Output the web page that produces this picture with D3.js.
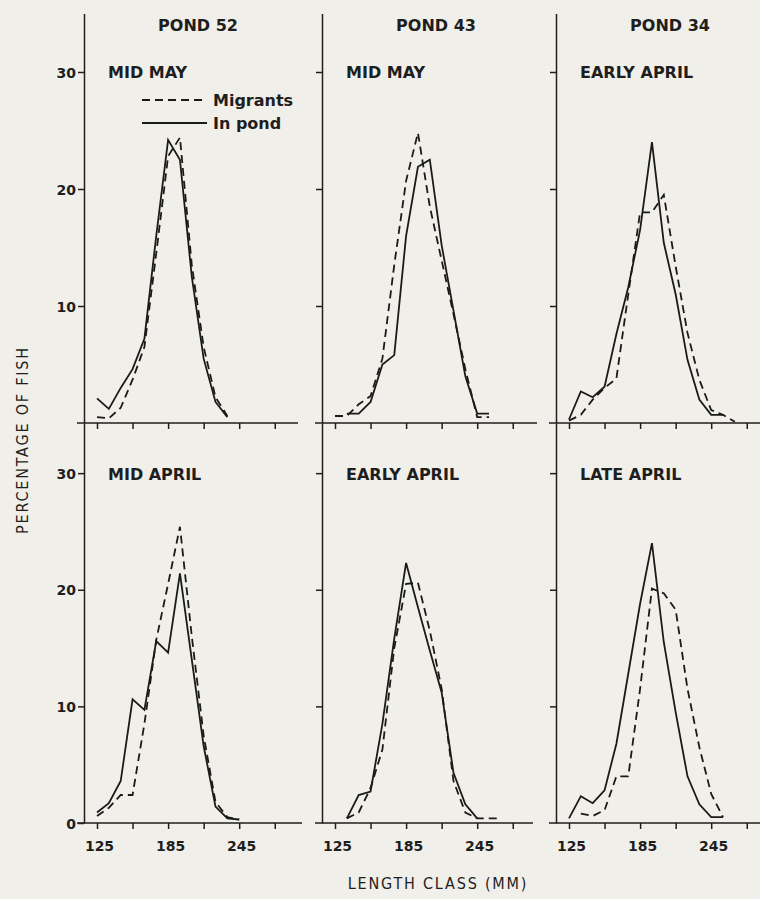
<!DOCTYPE html>
<html>
<head>
<meta charset="utf-8">
<script src="https://cdn.jsdelivr.net/npm/d3@7"></script>
<style>
  html, body { margin: 0; padding: 0; background: #f1efe9; }
  svg { display: block; }
  .axis path, .axis line { stroke: #1e1e1e; stroke-width: 1.5; }
  .axis text { font-family: "DejaVu Sans", sans-serif; font-weight: bold; font-size: 14px; fill: #1e1e1e; }
  .lbl { font-family: "DejaVu Sans", sans-serif; font-weight: bold; font-size: 16px; fill: #1e1e1e; }
  .title { font-family: "DejaVu Sans Condensed", "Liberation Sans Narrow", sans-serif; font-size: 16px; fill: #1e1e1e; letter-spacing: 1.8px; }
</style>
</head>
<body>
<div id="chart"></div>
<script>
// length classes (mm), one value per class below; null = no point
const lengthClasses = [125, 135, 145, 155, 165, 175, 185, 195, 205, 215, 225, 235, 245, 255, 265];
const xTicks = [125, 155, 185, 215, 245, 275];
const xTickLabels = [125, 185, 245];

const pondTitles = ["POND 52", "POND 43", "POND 34"];
const topPeriods = ["MID MAY", "MID MAY", "EARLY APRIL"];
const bottomPeriods = ["MID APRIL", "EARLY APRIL", "LATE APRIL"];

// top row
const pond52MayMigrants = [0.5, 0.4, 1.3, 3.7, 6.5, 14.5, 22.8, 24.4, 13.5, 6.5, 2.2, 0.6, null, null, null];
const pond52MayInPond   = [2.1, 1.2, 3.0, 4.6, 7.2, 16.0, 24.2, 22.5, 12.5, 5.5, 1.8, 0.5, null, null, null];
const pond43MayMigrants = [0.6, 0.6, 1.6, 2.3, 5.5, 13.5, 20.7, 24.8, 18.5, 13.9, 9.3, 4.6, 0.5, 0.5, null];
const pond43MayInPond   = [null, 0.8, 0.8, 1.8, 5.0, 5.8, 16.0, 21.9, 22.5, 15.2, 9.6, 4.0, 0.8, 0.8, null];
const pond34EarlyAprMigrants = [0.2, 0.7, 2.0, 3.0, 3.8, 11.0, 18.0, 18.0, 19.5, 13.4, 7.7, 3.7, 1.1, 0.7, 0.1];
const pond34EarlyAprInPond   = [0.3, 2.7, 2.2, 3.1, 7.6, 11.6, 16.5, 24.0, 15.4, 11.0, 5.4, 2.0, 0.7, 0.7, null];

// bottom row
const pond52MidAprMigrants = [0.6, 1.3, 2.4, 2.4, 8.5, 15.7, 20.5, 25.4, 16.0, 7.5, 1.8, 0.5, 0.3, null, null];
const pond52MidAprInPond   = [0.9, 1.7, 3.6, 10.6, 9.7, 15.6, 14.6, 21.4, 14.0, 6.6, 1.4, 0.4, 0.3, null, null];
const pond43EarlyAprMigrants = [null, 0.4, 0.9, 3.0, 6.3, 15.0, 20.5, 20.6, 16.5, 11.5, 3.6, 0.9, 0.4, 0.4, 0.4];
const pond43EarlyAprInPond   = [null, 0.4, 2.4, 2.7, 8.5, 15.8, 22.3, 18.5, 14.8, 11.2, 4.3, 1.6, 0.4, null, null];
const pond34LateAprMigrants = [null, 0.8, 0.6, 1.1, 4.0, 4.0, 11.5, 20.1, 19.7, 18.3, 11.5, 6.5, 2.5, 0.5, null];
const pond34LateAprInPond   = [0.4, 2.3, 1.7, 2.8, 6.8, 12.8, 18.8, 24.0, 15.5, 9.5, 4.0, 1.6, 0.5, 0.5, null];

const panels = [
  {row: 0, col: 0, period: topPeriods[0], migrants: pond52MayMigrants, inPond: pond52MayInPond},
  {row: 0, col: 1, period: topPeriods[1], migrants: pond43MayMigrants, inPond: pond43MayInPond},
  {row: 0, col: 2, period: topPeriods[2], migrants: pond34EarlyAprMigrants, inPond: pond34EarlyAprInPond},
  {row: 1, col: 0, period: bottomPeriods[0], migrants: pond52MidAprMigrants, inPond: pond52MidAprInPond},
  {row: 1, col: 1, period: bottomPeriods[1], migrants: pond43EarlyAprMigrants, inPond: pond43EarlyAprInPond},
  {row: 1, col: 2, period: bottomPeriods[2], migrants: pond34LateAprMigrants, inPond: pond34LateAprInPond}
];

const width = 760, height = 899;
const colX = [84, 322, 556];          // y-axis position of each column
const colEnd = [[298, 537, 760], [302, 533, 760]];
const rows = [
  {domain: [0, 35], range: [423, 13.5]},
  {domain: [0, 34.3], range: [823, 423]}
];

const svg = d3.select("#chart").append("svg")
  .attr("width", width)
  .attr("height", height);

const line = (x, y) => d3.line()
  .defined(d => d.v != null)
  .x(d => x(d.len))
  .y(d => y(d.v));

panels.forEach(p => {
  const x0 = colX[p.col];
  const x = d3.scaleLinear().domain([125, 275]).range([x0 + 13, x0 + 13 + 177.75]);
  const y = d3.scaleLinear().domain(rows[p.row].domain).range(rows[p.row].range);
  const g = svg.append("g");

  // x axis
  const xAxis = d3.axisBottom(x)
    .tickValues(xTicks)
    .tickSize(6)
    .tickSizeOuter(0)
    .tickFormat(d => (p.row === 1 && xTickLabels.includes(d)) ? d : "");
  const xg = g.append("g").attr("class", "axis")
    .attr("transform", `translate(0,${y(0)})`)
    .call(xAxis);
  xg.select(".domain").remove();
  xg.selectAll("text").attr("dy", "1.35em").attr("dx", "2px");
  g.append("line")
    .attr("x1", x0 - 7).attr("x2", colEnd[p.row][p.col])
    .attr("y1", y(0)).attr("y2", y(0))
    .attr("stroke", "#1e1e1e").attr("stroke-width", 1.5);

  // y axis
  const yVals = (p.col === 0 && p.row === 1) ? [0, 10, 20, 30] : [10, 20, 30];
  const yAxis = d3.axisLeft(y)
    .tickValues(yVals)
    .tickSize(6)
    .tickSizeOuter(0)
    .tickFormat(d => p.col === 0 ? d : "");
  const yg = g.append("g").attr("class", "axis")
    .attr("transform", `translate(${x0},0)`)
    .call(yAxis);
  yg.selectAll("text").attr("x", -8).attr("dy", "0.36em");

  // series
  const mig = lengthClasses.map((len, i) => ({len: len, v: p.migrants[i]}));
  const pond = lengthClasses.map((len, i) => ({len: len, v: p.inPond[i]}));
  g.append("path").datum(mig)
    .attr("d", line(x, y))
    .attr("fill", "none").attr("stroke", "#1a1a1a").attr("stroke-width", 1.8)
    .attr("stroke-dasharray", "8,5");
  g.append("path").datum(pond)
    .attr("d", line(x, y))
    .attr("fill", "none").attr("stroke", "#1a1a1a").attr("stroke-width", 1.8);

  // period label
  g.append("text").attr("class", "lbl")
    .attr("x", x0 + 24)
    .attr("y", p.row === 0 ? 78 : 480)
    .text(p.period);

  if (p.row === 0) {
    g.append("text").attr("class", "lbl")
      .attr("x", x0 + 114).attr("y", 31)
      .attr("text-anchor", "middle")
      .text(pondTitles[p.col]);
  }
});

// legend in first panel
const legend = svg.append("g");
[{label: "Migrants", dash: "8,5", y: 100}, {label: "In pond", dash: null, y: 123}].forEach(l => {
  legend.append("line")
    .attr("x1", 142).attr("x2", 207)
    .attr("y1", l.y).attr("y2", l.y)
    .attr("stroke", "#1a1a1a").attr("stroke-width", 1.8)
    .attr("stroke-dasharray", l.dash);
  legend.append("text").attr("class", "lbl")
    .attr("x", 213).attr("y", l.y + 6)
    .text(l.label);
});

// axis titles
svg.append("text").attr("class", "title")
  .attr("transform", "translate(28,440) rotate(-90)")
  .attr("text-anchor", "middle")
  .text("PERCENTAGE OF FISH");

svg.append("text").attr("class", "title")
  .attr("x", 438).attr("y", 889)
  .attr("text-anchor", "middle")
  .text("LENGTH CLASS (MM)");
</script>
</body>
</html>
